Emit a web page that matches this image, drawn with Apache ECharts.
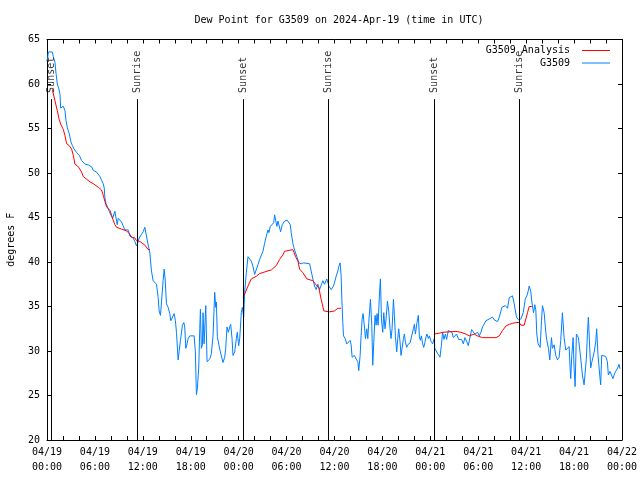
<!DOCTYPE html>
<html><head><meta charset="utf-8">
<script src="https://cdn.jsdelivr.net/npm/echarts@6/dist/echarts.min.js"></script>
<style>html,body{margin:0;padding:0;background:#fff}#c{width:640px;height:480px}</style>
</head><body><div id="c"></div>
<script>
// ---- data (hours since 2024-04-19 00:00 UTC) ----
const blueHours = [0.04,0.17,0.67,0.79,1.0,1.13,1.29,1.5,1.63,1.71,2.04,2.25,2.38,2.54,2.79,3.0,3.17,3.38,3.71,4.04,4.33,4.54,4.75,4.96,5.17,5.38,5.58,5.79,6.0,6.21,6.42,6.63,6.83,7.04,7.17,7.25,7.38,7.58,7.75,7.88,8.08,8.21,8.5,8.63,8.79,8.92,9.33,9.54,9.75,10.17,10.38,10.79,11.0,11.21,11.42,11.54,11.63,11.83,12.04,12.25,12.46,12.67,12.88,13.08,13.29,13.71,13.92,14.04,14.21,14.42,14.54,14.67,14.79,14.96,15.17,15.38,15.5,15.71,15.92,16.08,16.21,16.42,16.54,16.71,16.96,17.13,17.25,17.38,17.54,17.67,17.88,18.42,18.58,18.71,18.83,19.0,19.13,19.21,19.33,19.46,19.54,19.67,19.88,20.04,20.17,20.38,20.58,20.79,21.0,21.13,21.21,21.33,21.54,21.71,22.04,22.25,22.38,22.54,22.71,22.88,23.0,23.17,23.29,23.5,23.71,23.83,24.0,24.13,24.33,24.46,24.63,24.75,24.96,25.17,25.38,25.58,25.79,26.0,26.21,26.42,26.63,26.83,27.04,27.25,27.46,27.67,27.79,27.96,28.17,28.38,28.5,28.63,28.79,28.92,29.13,29.25,29.46,29.75,29.96,30.08,30.29,30.46,30.58,30.79,30.92,31.13,31.33,31.54,31.83,32.13,32.88,33.08,33.29,33.5,33.71,33.92,34.13,34.54,34.75,35.04,35.29,35.58,35.88,36.21,36.42,36.54,36.71,36.83,36.92,37.04,37.13,37.33,37.54,37.75,37.96,38.08,38.21,38.5,38.71,38.92,39.04,39.21,39.33,39.46,39.58,39.75,39.88,40.04,40.17,40.29,40.5,40.67,40.79,40.92,41.08,41.21,41.33,41.46,41.63,41.75,41.88,42.04,42.17,42.33,42.46,42.63,42.79,42.96,43.08,43.21,43.38,43.5,43.63,43.79,43.92,44.04,44.21,44.33,44.46,44.63,44.75,44.88,45.04,45.17,45.46,45.71,45.88,46.0,46.13,46.21,46.33,46.5,46.63,46.75,46.88,47.04,47.17,47.33,47.46,47.58,47.75,47.88,48.08,48.29,48.5,48.56,48.92,49.21,49.38,49.54,49.71,49.88,50.04,50.25,50.46,50.71,50.88,51.13,51.29,51.54,51.71,51.92,52.13,52.33,52.54,52.75,52.96,53.17,53.38,53.58,53.79,53.92,54.13,54.33,54.54,54.75,54.96,55.17,55.38,55.58,55.79,56.0,56.21,56.42,56.63,56.96,57.38,57.67,57.88,58.29,58.5,58.79,59.04,59.33,59.63,59.88,60.17,60.38,60.58,60.71,60.92,61.08,61.21,61.33,61.5,61.75,61.92,62.04,62.25,62.46,62.58,62.79,62.96,63.17,63.29,63.5,63.71,63.92,64.13,64.33,64.54,64.75,64.96,65.17,65.38,65.5,65.58,65.71,65.88,66.0,66.13,66.29,66.54,66.71,66.83,67.04,67.25,67.38,67.54,67.67,67.79,67.96,68.08,68.21,68.5,68.71,68.83,69.0,69.21,69.33,69.46,69.96,70.17,70.29,70.5,70.67,70.88,71.08,71.29,71.46,71.63,71.75];
const blueValues = [62.6,63.6,63.6,63.1,62.4,61.2,60.0,59.4,58.8,57.3,57.5,57.0,55.9,55.1,54.4,53.5,53.1,52.7,52.3,52.0,51.4,51.6,51.0,51.1,50.9,51.1,50.7,50.3,50.5,50.1,50.0,49.6,49.2,48.8,48.3,47.2,46.6,46.2,46.0,45.5,45.5,44.9,45.7,45.8,44.2,44.9,44.5,44.7,43.6,43.6,42.9,42.7,42.3,41.8,42.3,42.7,42.5,43.1,43.4,43.9,43.8,41.9,41.0,39.0,37.9,37.5,36.0,34.5,34.0,34.0,37.9,39.2,38.1,35.3,34.9,34.2,33.4,33.4,34.2,33.4,32.1,29.0,29.9,31.2,32.9,33.2,32.7,30.3,30.8,31.4,31.7,31.7,29.9,25.1,25.8,28.2,32.5,34.7,30.3,30.7,34.3,30.8,35.1,28.8,28.6,29.1,29.7,31.7,36.6,34.9,35.5,31.6,30.6,29.9,28.7,29.3,30.3,32.7,32.1,32.7,33.0,31.4,29.5,29.9,31.4,32.1,30.6,31.4,34.3,34.9,33.8,36.6,38.8,40.6,40.6,40.1,39.5,38.6,38.8,39.7,40.3,40.4,41.2,42.1,42.9,43.6,43.3,44.0,44.2,44.4,45.3,44.7,44.0,44.6,44.4,43.4,44.2,44.6,44.4,44.7,44.9,44.2,43.3,42.1,41.6,41.0,40.5,39.9,39.8,39.9,39.8,39.0,38.1,37.3,36.9,37.5,36.9,37.9,37.5,38.1,37.3,36.9,37.3,38.4,39.0,39.5,39.9,38.4,35.8,33.2,31.7,31.4,30.8,30.6,31.2,30.7,29.3,29.5,29.1,28.8,27.8,29.5,31.7,33.6,34.2,32.7,31.4,32.5,31.4,33.2,35.8,32.9,28.4,31.0,34.0,32.9,34.2,32.9,36.4,38.1,33.6,32.1,34.3,32.5,33.6,35.6,34.5,32.5,31.4,32.5,35.8,34.0,31.6,29.9,31.4,32.5,31.0,29.5,30.3,31.4,31.9,31.0,30.4,30.7,30.9,30.9,32.5,33.0,31.9,31.7,33.2,34.0,31.6,31.2,31.7,30.8,30.4,31.0,31.6,31.9,31.4,31.7,31.1,30.8,31.4,30.3,29.7,29.3,30.6,32.1,31.3,31.9,31.3,32.3,32.5,32.1,31.5,31.3,31.9,31.3,31.5,31.3,30.8,31.5,31.1,30.6,30.8,32.4,32.6,31.9,31.7,32.1,31.7,32.1,32.7,32.9,33.4,33.3,33.6,33.5,33.8,33.5,33.6,33.3,33.8,34.9,35.1,34.8,36.0,36.2,35.3,33.8,33.5,33.6,34.3,35.8,36.4,37.3,36.7,35.5,34.3,35.2,34.6,31.9,30.8,30.4,33.4,35.1,34.3,32.1,31.2,30.3,29.0,31.5,30.3,30.7,29.5,29.0,29.3,31.2,34.3,31.5,30.1,30.3,30.5,28.1,26.9,29.5,31.5,28.1,26.0,31.9,31.5,30.1,29.2,27.3,26.2,27.5,29.2,31.9,33.8,30.3,28.1,28.7,29.8,31.0,32.5,29.5,27.3,26.2,29.5,29.4,28.8,27.3,27.7,27.3,26.9,27.5,27.4,28.1,28.5,28.0];

const redHours = [0.67,1.0,1.29,1.5,1.71,2.04,2.25,2.46,2.75,3.08,3.29,3.5,3.92,4.33,4.54,4.96,5.38,5.79,6.42,6.83,7.04,7.25,7.46,7.88,8.08,8.29,8.5,8.71,9.33,9.96,10.29,10.58,11.0,11.21,11.63,11.83,12.25,12.67,12.88,
  18.0,
  24.54,24.75,25.17,25.58,26.21,26.63,27.67,28.08,28.71,29.13,29.54,29.75,30.29,30.79,31.13,31.42,31.63,32.04,32.54,33.29,33.63,34.04,34.33,34.67,35.38,36.0,36.42,36.83,
  42.0,
  48.5,49.13,49.54,51.21,51.83,52.46,52.88,53.5,53.88,54.54,56.21,56.63,57.04,57.46,57.88,58.29,58.71,59.13,59.33,59.75,59.96,60.17,60.38,60.71];
const redValues = [59.4,58.1,57.0,56.1,55.5,54.9,54.2,53.3,53.1,52.7,52.0,51.0,50.7,50.1,49.6,49.3,49.0,48.8,48.4,48.1,47.5,46.8,46.2,45.8,45.3,44.7,44.2,43.9,43.7,43.5,43.2,42.8,42.7,42.4,42.3,42.1,41.9,41.4,41.4,
  null,
  36.0,36.4,37.3,38.1,38.4,38.7,39.0,39.1,39.6,40.3,40.8,41.2,41.3,41.4,40.6,40.1,39.2,38.8,38.1,37.9,37.5,37.1,35.8,34.5,34.4,34.5,34.8,34.8,
  null,
  31.9,32.0,32.1,32.2,32.1,31.9,31.7,31.9,31.7,31.5,31.5,31.7,32.3,32.8,33.0,33.1,33.2,33.2,32.9,32.9,33.6,34.3,35.0,35.0];

const eventHours = [0.59, 11.29, 24.54, 35.19, 48.54, 59.16];
const eventNames = ['Sunset','Sunrise','Sunset','Sunrise','Sunset','Sunrise'];

const xTickHours = [0,6,12,18,24,30,36,42,48,54,60,66,72];
const xTickLabels = ['04/19\n00:00','04/19\n06:00','04/19\n12:00','04/19\n18:00','04/20\n00:00','04/20\n06:00','04/20\n12:00','04/20\n18:00','04/21\n00:00','04/21\n06:00','04/21\n12:00','04/21\n18:00','04/22\n00:00'];

const titleText = 'Dew Point for G3509 on 2024-Apr-19 (time in UTC)';
const yName = 'degrees F';
const seriesNames = ['G3509 Analysis','G3509'];

// ---- chart ----
const FONT = 'DejaVu Sans Mono';
const zip = (a,b) => a.map((v,i) => [v, b[i]]);
const chart = echarts.init(document.getElementById('c'), null, {renderer:'canvas'});
const tick = {show:true, inside:true, length:4, lineStyle:{color:'#000', width:1}};
const line = {show:true, onZero:false, lineStyle:{color:'#000', width:1}};
const legendText = {fontFamily:FONT, fontSize:10, color:'#000', padding:[0,7,0,0]};
chart.setOption({
  animation:false,
  backgroundColor:'#fff',
  textStyle:{fontFamily:FONT, fontSize:10, color:'#000'},
  title:{text:titleText, left:334, top:10, textAlign:'center',
    textStyle:{fontFamily:FONT, fontSize:10, fontWeight:'normal', color:'#000'}},
  legend:[
    {data:[seriesNames[0]], right:25, top:40.5, orient:'vertical', align:'right', icon:'rect', itemWidth:28, itemHeight:1,
      textStyle:legendText, selectedMode:false},
    {data:[seriesNames[1]], right:25, top:53, orient:'vertical', align:'right', icon:'rect', itemWidth:28, itemHeight:1,
      textStyle:legendText, selectedMode:false}
  ],
  grid:{left:47, right:18, top:39.5, bottom:40, containLabel:false, outerBoundsMode:'none'},
  xAxis:[
    {type:'value', min:0, max:72, interval:2, position:'bottom', axisLine:line, axisTick:tick, splitLine:{show:false},
      axisLabel:{margin:5, lineHeight:15, fontFamily:FONT, fontSize:10, color:'#000',
        formatter:v => { const i = xTickHours.indexOf(v); return i >= 0 ? xTickLabels[i] : ''; }}},
    {type:'value', min:0, max:72, interval:2, position:'top', axisLine:line, axisTick:tick, splitLine:{show:false}, axisLabel:{show:false}}
  ],
  yAxis:[
    {type:'value', min:20, max:65, interval:5, position:'left', axisLine:line, axisTick:tick, splitLine:{show:false},
      axisLabel:{margin:7, fontFamily:FONT, fontSize:10, color:'#000'},
      name:yName, nameLocation:'middle', nameGap:31, nameTextStyle:{fontFamily:FONT, fontSize:10, color:'#000'}},
    {type:'value', min:20, max:65, interval:5, position:'right', axisLine:line, axisTick:tick, splitLine:{show:false}, axisLabel:{show:false}}
  ],
  series:[
    {name:seriesNames[0], type:'line', data:zip(redHours, redValues), showSymbol:false, connectNulls:false,
      lineStyle:{color:'#ff0000', width:1}, itemStyle:{color:'#ff0000'}, z:3},
    {name:seriesNames[1], type:'line', data:zip(blueHours, blueValues), showSymbol:false,
      lineStyle:{color:'#0080ff', width:1}, itemStyle:{color:'#0080ff'}, z:2},
    {name:'events', type:'scatter', symbolSize:0, silent:true, z:4,
      data:eventHours.map((h,i) => ({value:[h, 59.0], name:eventNames[i]})),
      label:{show:true, position:'inside', rotate:90, align:'left', verticalAlign:'middle',
        formatter:p => p.name, fontFamily:FONT, fontSize:10, color:'#000'},
      markLine:{silent:true, symbol:['none','none'], label:{show:false},
        lineStyle:{color:'#000', width:1, type:'solid'},
        data:eventHours.map(h => [{coord:[h,20]},{coord:[h,58.3]}])}}
  ]
});
</script></body></html>
